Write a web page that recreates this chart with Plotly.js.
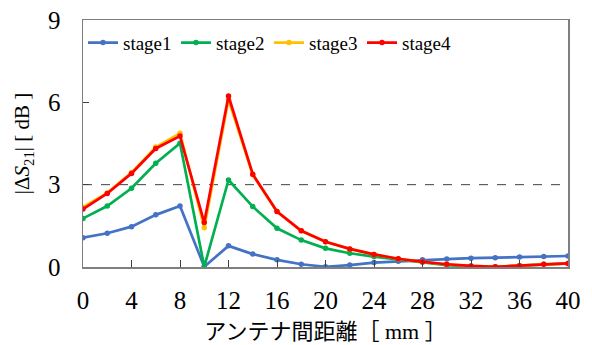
<!DOCTYPE html>
<html>
<head>
<meta charset="utf-8">
<script src="https://cdn.plot.ly/plotly-3.0.1.min.js"></script>
<style>html,body{margin:0;padding:0;background:#fff}#chart{width:592px;height:345px}</style>
</head>
<body>
<div id="chart"></div>
<script>
const distance = [0,2,4,6,8,10,12,14,16,18,20,22,24,26,28,30,32,34,36,38,40];
const stage1 = [1.07,1.23,1.47,1.90,2.22,0.01,0.77,0.47,0.26,0.10,0.01,0.07,0.16,0.21,0.26,0.29,0.32,0.34,0.36,0.38,0.40];
const stage2 = [1.77,2.22,2.87,3.78,4.51,0.01,3.17,2.20,1.41,0.98,0.68,0.50,0.38,0.28,0.17,0.07,0.02,0.01,0.05,0.10,0.13];
const stage3 = [2.18,2.70,3.44,4.37,4.87,1.43,6.09,3.36,2.02,1.32,0.92,0.66,0.46,0.30,0.19,0.10,0.04,0.01,0.05,0.10,0.13];
const stage4 = [2.11,2.68,3.41,4.32,4.77,1.62,6.23,3.38,2.02,1.32,0.92,0.66,0.46,0.30,0.19,0.10,0.04,0.01,0.05,0.10,0.13];
const seriesNames = ["stage1","stage2","stage3","stage4"];
const seriesColors = ["#4472C4","#00B050","#FFC000","#FF0000"];
const threshold = 3;
const xTicks = [0,4,8,12,16,20,24,28,32,36,40];
const yTicks = [0,3,6,9];

const serif = "Liberation Serif";
const allSeries = [stage1, stage2, stage3, stage4];
const traces = allSeries.map((ys, i) => ({
  x: distance, y: ys, name: seriesNames[i], type: "scatter", mode: "lines+markers",
  line: {color: seriesColors[i], width: 2.7},
  marker: {color: seriesColors[i], size: 5.5}
}));

const layout = {
  width: 592, height: 345,
  margin: {l: 83, r: 24, t: 20, b: 78},
  paper_bgcolor: "#fff", plot_bgcolor: "#fff",
  font: {family: serif, color: "#000"},
  showlegend: true,
  legend: {orientation: "h", x: 0.0, xanchor: "left", y: 0.985, yanchor: "top",
           font: {family: serif, size: 19, color: "#000"}, bgcolor: "rgba(0,0,0,0)",
           entrywidth: 48, itemwidth: 30, tracegroupgap: 0},
  xaxis: {range: [0, 40], tickvals: xTicks, ticktext: xTicks.map(String),
          ticks: "inside", ticklen: 7, tickcolor: "#404040", tickwidth: 1,
          showline: true, linecolor: "#7f7f7f", linewidth: 1.5, mirror: true,
          showgrid: false, zeroline: false,
          tickfont: {family: serif, size: 25, color: "#000"}, ticklabelstandoff: 10,
          title: {text: "アンテナ間距離［ mm ］", font: {family: "Liberation Serif, Noto Sans CJK JP", size: 22, color: "#000"}, standoff: 11}},
  yaxis: {range: [0, 9], tickvals: yTicks, ticktext: yTicks.map(String),
          ticks: "inside", ticklen: 6, tickcolor: "#404040", tickwidth: 1,
          showline: true, linecolor: "#7f7f7f", linewidth: 1.5, mirror: true,
          showgrid: false, zeroline: false,
          tickfont: {family: serif, size: 25, color: "#000"}, ticklabelstandoff: 16,
          title: {text: "|Δ<i>S</i><sub>21</sub>| [ dB ]", font: {family: serif, size: 21, color: "#000"}, standoff: 12}},
  shapes: [{type: "line", xref: "paper", x0: 0, x1: 1, yref: "y", y0: threshold, y1: threshold,
            line: {color: "#404040", width: 1, dash: "dash"}, layer: "below"}]
};

Plotly.newPlot("chart", traces, layout, {staticPlot: true, displayModeBar: false});
</script>
</body>
</html>
